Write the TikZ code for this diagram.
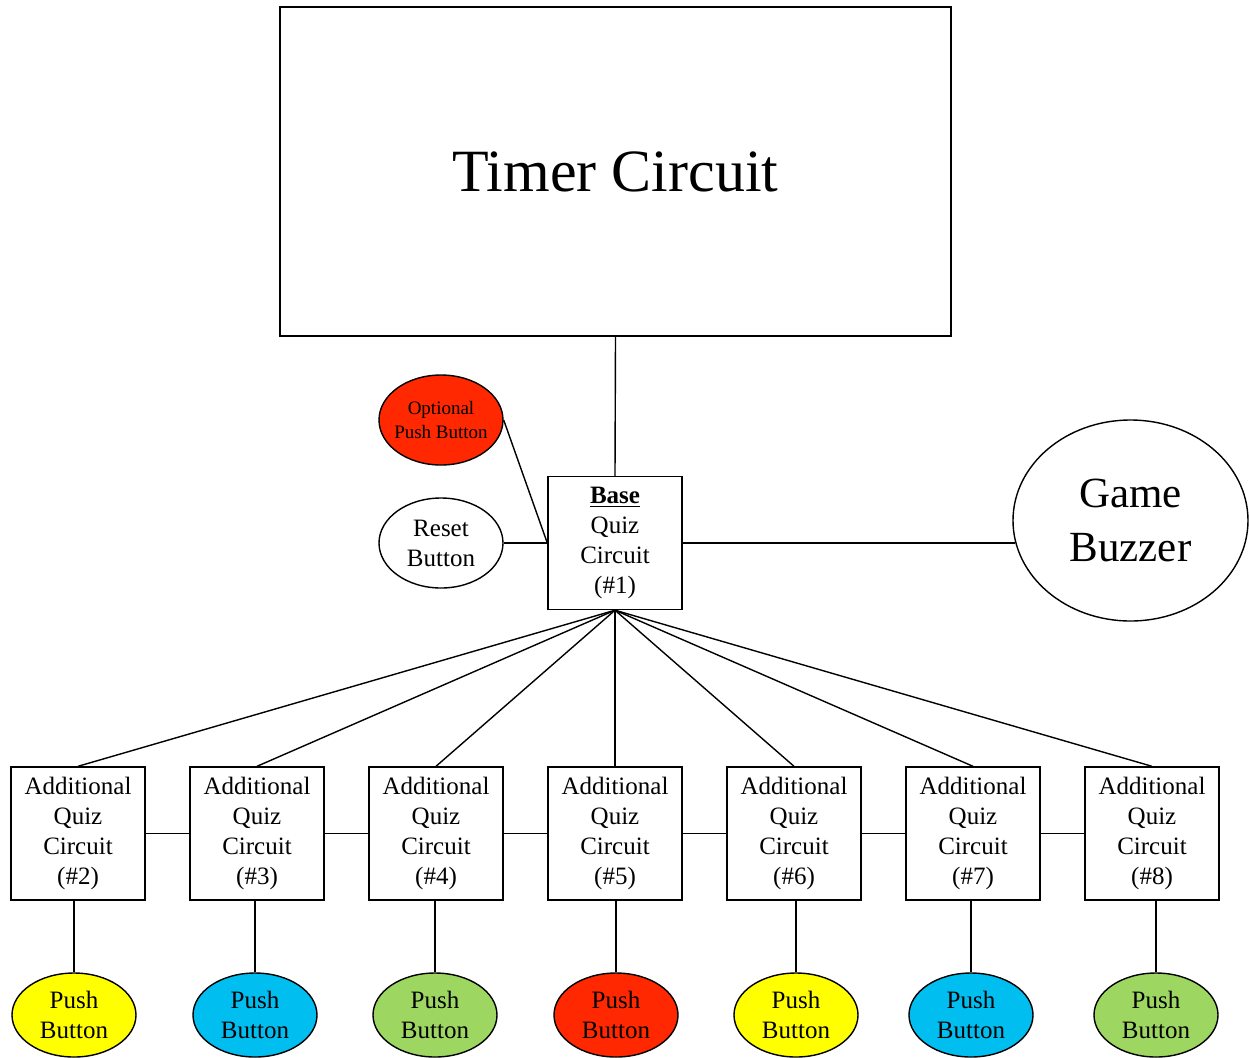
\documentclass[tikz,border=0pt]{standalone}
\usepackage{fontspec}
\setmainfont{Liberation Serif}
\usetikzlibrary{shapes.geometric}

\definecolor{btnred}{RGB}{255,40,0}
\definecolor{btnyellow}{RGB}{255,255,0}
\definecolor{btncyan}{RGB}{0,190,240}
\definecolor{btngreen}{RGB}{158,214,98}

\tikzset{
	circuit/.style={draw, rectangle, minimum width=67pt, minimum height=66.5pt, inner sep=0pt, align=center, font=\fontsize{12.5}{15}\selectfont},
	button/.style={draw, ellipse, minimum width=62pt, minimum height=45pt, inner sep=0pt, align=center, font=\fontsize{12.5}{15}\selectfont},
	pushbtn/.style={button, minimum height=42pt, fill=#1},
}

\begin{document}
\begin{tikzpicture}[x=0.5pt, y=-0.5pt, line width=0.7pt]
				\useasboundingbox (0,0) rectangle (1249,1057);
				
				% Timer
				\node[draw, minimum width=335.5pt, minimum height=164.5pt, font=\fontsize{30}{36}\selectfont] (timer) at (615.5,171.5) {Timer Circuit};
				
				% Base circuit
				\node[circuit] (base) at (615,543) {\underline{\textbf{Base}}\\Quiz\\Circuit\\(\#1)};
				\node[button, fill=btnred, label={[font=\fontsize{9.5}{12}\selectfont, align=center]center:Optional\\Push Button}] (optional) at (441,420) {};
				\node[button] (reset) at (441,543) {Reset\\Button};
				\node[draw, ellipse, minimum width=117.5pt, minimum height=100.5pt, inner sep=0pt, align=center, font=\fontsize{21.5}{27}\selectfont] (buzzer) at (1130.5,520.5) {Game\\Buzzer};
				
				\draw (timer.south) -- (base.north);
				\draw (optional.east) -- (base.west);
				\draw (reset.east) -- (base.west);
				\draw[shorten >=-1.5pt] (base.east) -- (base.east -| buzzer.west);
				
				% Additional circuits and their buttons
				\foreach \i/\bx/\px/\col in {2/78/74/btnyellow, 3/257/255/btncyan, 4/436/435/btngreen, 5/615/616/btnred, 6/794/796/btnyellow, 7/973/971/btncyan, 8/1152/1156/btngreen}{
					\node[circuit] (quiz\i) at (\bx,833.5) {Additional\\Quiz\\Circuit\\(\#\i)};
					\node[pushbtn=\col] (push\i) at (\px,1015) {Push\\Button};
					\draw (base.south) -- (quiz\i.north);
					\draw (push\i.north) -- (push\i.north |- quiz\i.south);
				}
				
				% Chain
				\foreach \i/\j in {2/3,3/4,4/5,5/6,6/7,7/8}
					\draw (quiz\i.east) -- (quiz\j.west);
			\end{tikzpicture}
\end{document}
